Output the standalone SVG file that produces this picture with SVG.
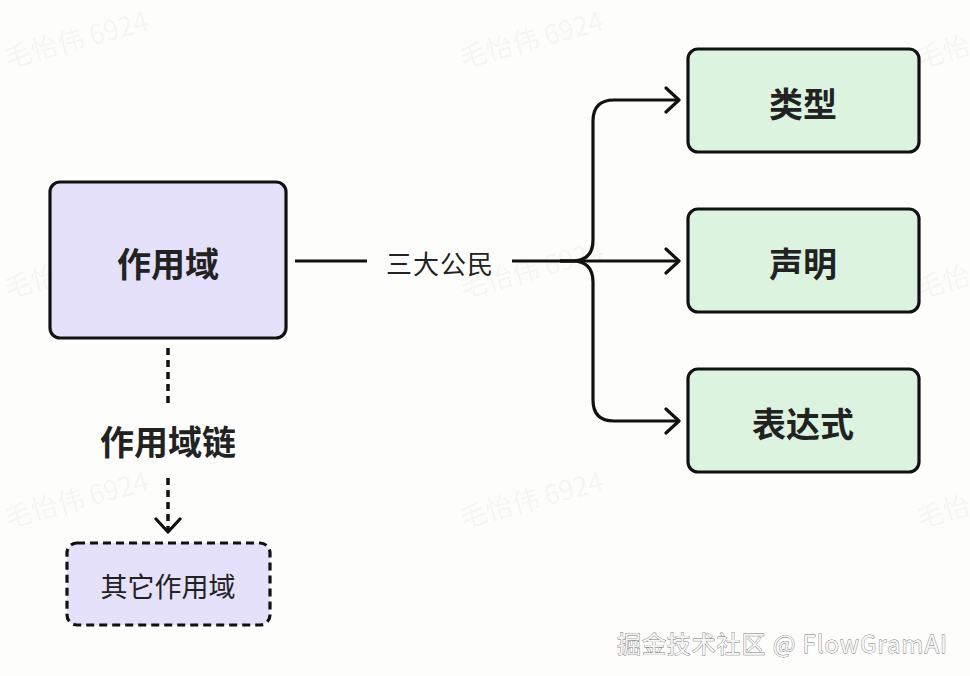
<svg xmlns="http://www.w3.org/2000/svg" width="970" height="676" viewBox="0 0 970 676">
<defs>
<style>
.txt{font-family:"Noto Sans CJK SC","Noto Sans",sans-serif;fill:#222;text-anchor:middle;dominant-baseline:central}
.b{font-weight:700;font-size:34px}
.wm{font-family:"Noto Sans CJK SC","Noto Sans",sans-serif;font-size:27px;fill:#000;fill-opacity:0.05}
.purple{fill:#e6e1fa;stroke:#111;stroke-width:3.2}
.green{fill:#dcf3e0;stroke:#111;stroke-width:3.2}
.edge{fill:none;stroke:#111;stroke-width:3.2;stroke-linecap:butt;stroke-linejoin:round}
.dot{fill:none;stroke:#111;stroke-width:3.5;stroke-dasharray:7 5}
</style>
<marker id="arr" viewBox="-16 -14 20 28" markerWidth="20" markerHeight="28" refX="0" refY="0" orient="auto" markerUnits="userSpaceOnUse">
<path d="M-13 -12 L0 0 L-13 12" fill="none" stroke="#111" stroke-width="3.2" stroke-linecap="round" stroke-linejoin="round"/>
</marker>
</defs>
<rect width="970" height="676" fill="#fdfdfc"/>
<g id="watermarks">
<text class="wm" transform="translate(8 68) rotate(-15)">毛怡伟 6924</text>
<text class="wm" transform="translate(463 68) rotate(-15)">毛怡伟 6924</text>
<text class="wm" transform="translate(920 68) rotate(-15)">毛怡伟 6924</text>
<text class="wm" transform="translate(8 298) rotate(-15)">毛怡伟 6924</text>
<text class="wm" transform="translate(463 298) rotate(-15)">毛怡伟 6924</text>
<text class="wm" transform="translate(920 298) rotate(-15)">毛怡伟 6924</text>
<text class="wm" transform="translate(8 528) rotate(-15)">毛怡伟 6924</text>
<text class="wm" transform="translate(463 528) rotate(-15)">毛怡伟 6924</text>
<text class="wm" transform="translate(920 528) rotate(-15)">毛怡伟 6924</text>
</g>
<g id="connectors">
<path class="edge" d="M295 261 H367"/>
<path class="edge" d="M512 261 H679" marker-end="url(#arr)"/>
<path class="edge" d="M560 261 H572 Q593 261 593 240 V121 Q593 100 614 100 H679" marker-end="url(#arr)"/>
<path class="edge" d="M560 261 H572 Q593 261 593 282 V400 Q593 421 614 421 H679" marker-end="url(#arr)"/>
<text class="txt" x="440" y="262" font-size="26" letter-spacing="1">三大公民</text>
<path class="dot" d="M168 348 V404"/>
<path class="dot" d="M168 478 V532" marker-end="url(#arr)"/>
<text class="txt b" x="168" y="440">作用域链</text>
</g>
<g id="node-scope">
<rect class="purple" x="50" y="182" width="236" height="156" rx="10"/>
<text class="txt b" x="168" y="262">作用域</text>
</g>
<g id="node-type">
<rect class="green" x="688" y="49" width="231" height="103" rx="10"/>
<text class="txt b" x="803" y="102">类型</text>
</g>
<g id="node-decl">
<rect class="green" x="688" y="209" width="231" height="103" rx="10"/>
<text class="txt b" x="803" y="262">声明</text>
</g>
<g id="node-expr">
<rect class="green" x="688" y="369" width="231" height="103" rx="10"/>
<text class="txt b" x="803" y="422">表达式</text>
</g>
<g id="node-other">
<rect class="purple" x="67" y="543" width="203" height="82" rx="10" stroke-width="3.5" stroke-dasharray="8 5"/>
<text class="txt" x="168" y="585" font-size="27">其它作用域</text>
</g>
<text x="617" y="642" dominant-baseline="central" font-family="'Noto Sans CJK SC','Noto Sans',sans-serif" font-size="24" textLength="330" lengthAdjust="spacing" fill="#f6f6f6" stroke="#777" stroke-width="0.8" paint-order="stroke">掘金技术社区 @ FlowGramAI</text>
</svg>
